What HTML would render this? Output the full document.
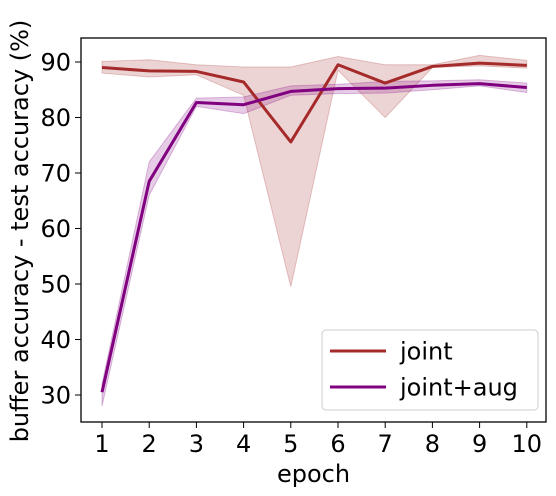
<!DOCTYPE html>
<html><head><meta charset="utf-8"><style>body{margin:0;background:#fff}svg{display:block;font-family:"DejaVu Sans","Liberation Sans",sans-serif}</style></head>
<body>
<svg id="chart" width="556" height="496"></svg>
<script>
const epochs=[1,2,3,4,5,6,7,8,9,10];
const jointMean=[89.0,88.4,88.3,86.4,75.6,89.5,86.2,89.2,89.8,89.4];
const jointLow=[88.0,87.3,87.7,84.0,49.5,88.5,80.0,89.0,89.3,88.9];
const jointHigh=[90.1,90.4,89.5,89.1,89.1,91.0,89.5,89.5,91.2,90.3];
const augMean=[30.5,68.5,82.7,82.3,84.7,85.2,85.3,85.8,86.1,85.4];
const augLow=[28,66,82,80.7,84,84.3,84.4,85,85.7,84.5];
const augHigh=[32,72,83.5,83.7,85.7,86,86.5,86.6,86.8,86.2];
const yTicks=[30,40,50,60,70,80,90];
const NS="http://www.w3.org/2000/svg";
const svg=document.getElementById('chart');
const L=81,R=546,T=38,B=422;
const xs=e=>102+(e-1)*47.2;
const ys=v=>62+(90-v)*5.55;
function mk(t,a,p){const e=document.createElementNS(NS,t);for(const k in a)e.setAttribute(k,a[k]);(p||svg).appendChild(e);return e;}
function band(lo,hi,fill,stroke,name){let d='M'+epochs.map((e,i)=>xs(e)+','+ys(hi[i])).join('L');
for(let i=epochs.length-1;i>=0;i--)d+='L'+xs(epochs[i])+','+ys(lo[i]);
const p=mk('path',{d:d+'Z',fill:fill,'fill-opacity':0.2,stroke:stroke,'stroke-opacity':0.25});

}
function line(m,c,name){const p=mk('polyline',{points:epochs.map((e,i)=>xs(e)+','+ys(m[i])).join(' '),fill:'none',stroke:c,'stroke-width':3,'stroke-linejoin':'round'});

}
band(jointLow,jointHigh,'#a52a2a','#a52a2a','joint-band');
band(augLow,augHigh,'#800080','#800080','joint-aug-band');
line(jointMean,'#a52a2a','joint-line');
line(augMean,'#800080','joint-aug-line');
const fr=mk('rect',{x:L,y:T,width:R-L,height:B-T,fill:'none',stroke:'#000','stroke-width':1.3});


epochs.forEach(e=>{mk('line',{x1:xs(e),x2:xs(e),y1:B,y2:B+6,stroke:'#000'});
const t=mk('text',{x:xs(e),y:B+30,'text-anchor':'middle','font-size':24});t.textContent=e;

});
yTicks.forEach(v=>{mk('line',{x1:L-6,x2:L,y1:ys(v),y2:ys(v),stroke:'#000'});
const t=mk('text',{x:L-10,y:ys(v)+8.5,'text-anchor':'end','font-size':24});t.textContent=v;

});
const xt=mk('text',{x:(L+R)/2,y:482,'text-anchor':'middle','font-size':24});xt.textContent='epoch';


const yt=mk('text',{x:0,y:0,'text-anchor':'middle','font-size':24,transform:'translate(28,231) rotate(-90)'});yt.textContent='buffer accuracy - test accuracy (%)';


const lg=mk('g',{});


mk('rect',{x:322,y:330,width:216,height:80,rx:4,fill:'#fff','fill-opacity':0.8,stroke:'#ccc'},lg);
[['joint','#a52a2a',351],['joint+aug','#800080',387]].forEach(([n,c,y])=>{
mk('line',{x1:330,x2:386,y1:y,y2:y,stroke:c,'stroke-width':3},lg);
const t=mk('text',{x:400,y:y+8.5,'font-size':24},lg);t.textContent=n;

});
</script>
</body></html>
